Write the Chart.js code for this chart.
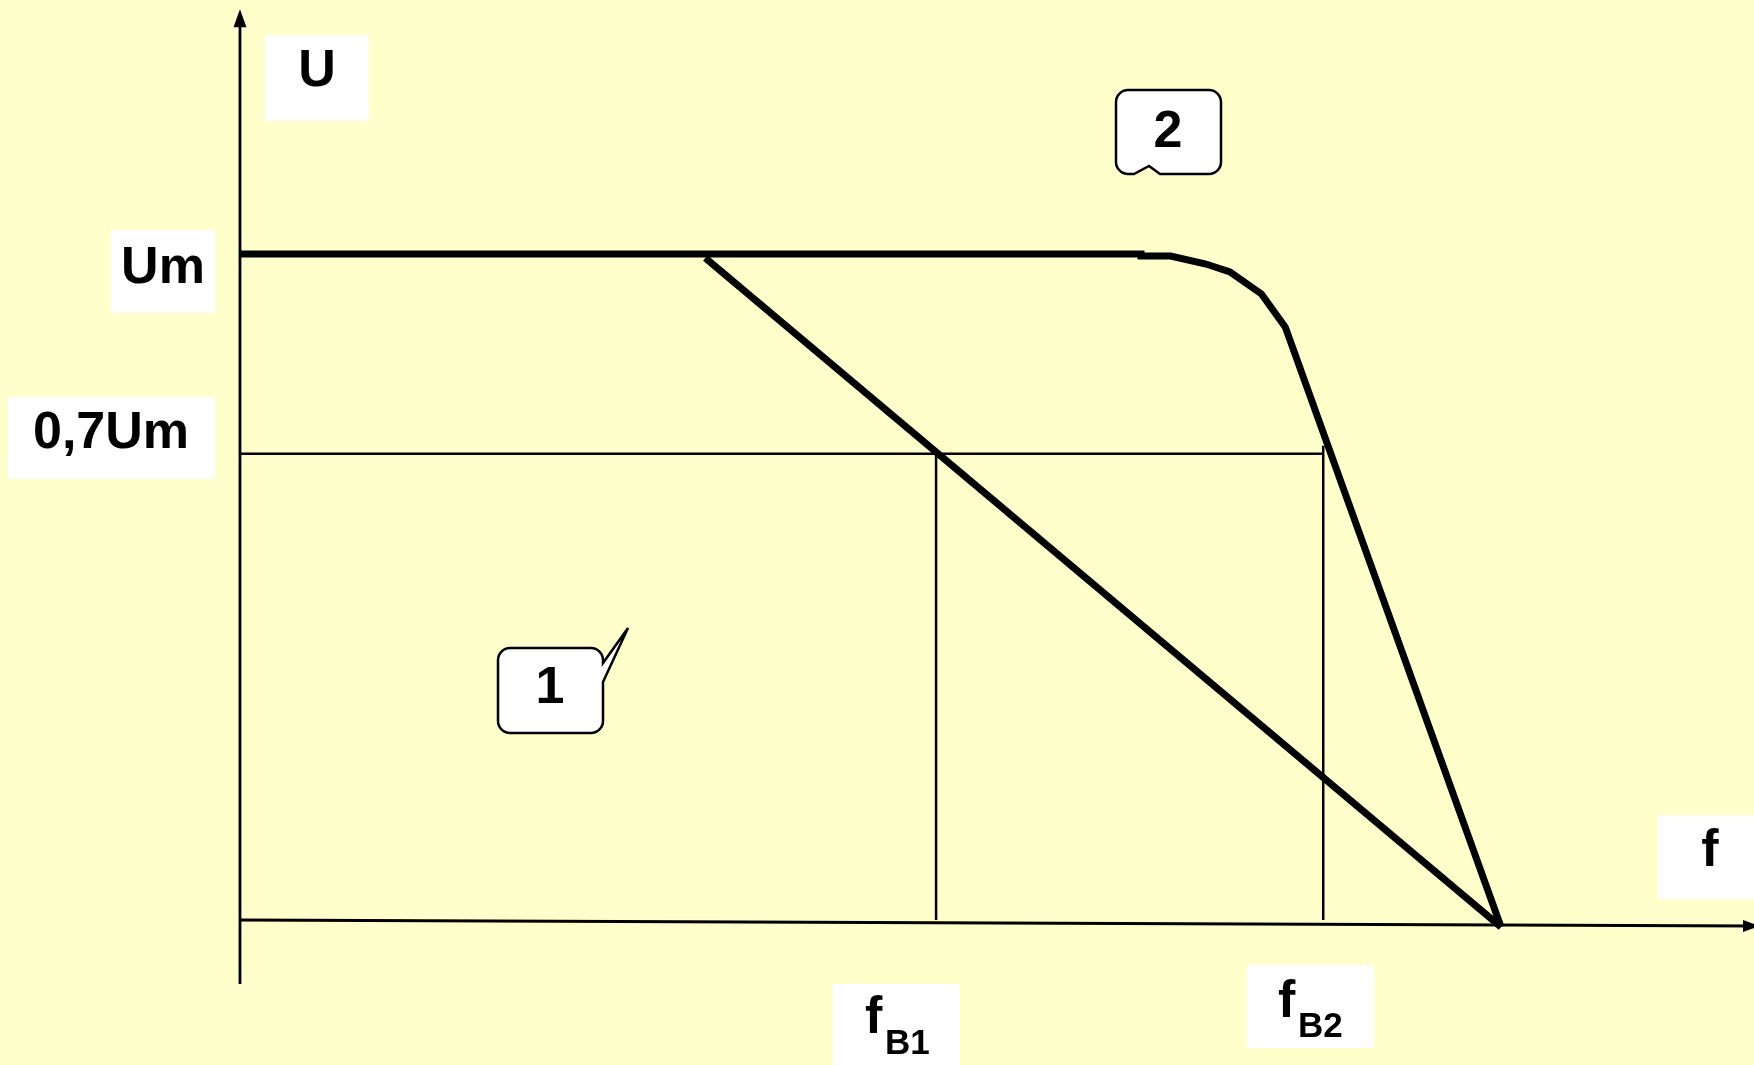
<!DOCTYPE html>
<html>
<head>
<meta charset="utf-8">
<script src="https://cdn.jsdelivr.net/npm/chart.js@4"></script>
<style>
  body { margin: 0; background: #ffffcc; }
  canvas { display: block; }
</style>
</head>
<body>
<canvas id="chartAfc" width="1754" height="1065"></canvas>
<script>
// frequency f in % of the point where both curves meet the axis, U in units of Um
const curve1F = [36.9, 100];
const curve1U = [0.994, -0.0105];

const curve2F = [0, 71.45, 71.45, 73.8, 76.6, 78.5, 81.0, 82.9, 100];
const curve2U = [1, 1, 0.997, 0.997, 0.985, 0.973, 0.940, 0.890, -0.0105];

const levelU = 0.7;          // 0,7Um level
const fB = [55.2, 85.9];     // fB1, fB2
const fBTop = [0.7, 0.712];  // upper ends of the vertical marks
const axisF = [0, 120.06];
const axisU = [0, -0.009];   // x axis is drawn slightly tilted
const yAxisU = [-0.096, 1.342];

const pts = (xs, ys) => xs.map((x, i) => ({ x: x, y: ys[i] }));
const thin = { borderColor: '#000', borderWidth: 2.5, pointRadius: 0, showLine: true };
const thick = { borderColor: '#000', borderWidth: 7, pointRadius: 0, showLine: true, borderJoinStyle: 'miter' };

function whiteBox(ctx, x1, y1, x2, y2) {
  ctx.fillStyle = '#fff';
  ctx.fillRect(x1, y1, x2 - x1, y2 - y1);
}

// labels, callouts and arrow heads
const drawExtras = {
  id: 'drawExtras',
  beforeDraw(chart) {
    const ctx = chart.ctx;
    ctx.save();
    ctx.fillStyle = '#ffffcc';
    ctx.fillRect(0, 0, chart.width, chart.height);
    ctx.restore();
  },
  afterDatasetsDraw(chart) {
    const ctx = chart.ctx;
    const sx = chart.scales.x, sy = chart.scales.y;
    ctx.save();

    // arrow heads
    ctx.fillStyle = '#000';
    const ax = sx.getPixelForValue(0), ay = sy.getPixelForValue(yAxisU[1]);
    ctx.beginPath();
    ctx.moveTo(ax, ay - 17);
    ctx.lineTo(ax - 6.5, ay + 1);
    ctx.lineTo(ax + 6.5, ay + 1);
    ctx.closePath();
    ctx.fill();
    const bx = sx.getPixelForValue(axisF[1]), by = sy.getPixelForValue(axisU[1]);
    ctx.beginPath();
    ctx.moveTo(bx + 6, by);
    ctx.lineTo(bx - 11, by - 6);
    ctx.lineTo(bx - 11, by + 6);
    ctx.closePath();
    ctx.fill();

    // white label boxes
    whiteBox(ctx, 265, 35, 369, 121);
    whiteBox(ctx, 111, 230, 215, 313);
    whiteBox(ctx, 8, 397, 215, 479);
    whiteBox(ctx, 1658, 815, 1754, 899);
    whiteBox(ctx, 833, 984, 960, 1065);
    whiteBox(ctx, 1247, 965, 1374, 1048);

    ctx.fillStyle = '#000';
    ctx.font = 'bold 52px "Liberation Sans", Arial, sans-serif';
    ctx.textAlign = 'center';
    ctx.textBaseline = 'alphabetic';
    ctx.fillText('U', 317, 86);
    ctx.fillText('Um', 163, 283);
    ctx.fillText('0,7Um', 111, 448);
    ctx.fillText('f', 1710, 866);

    ctx.textAlign = 'left';
    ctx.fillText('f', 865, 1033);
    ctx.fillText('f', 1278, 1017);
    ctx.font = 'bold 35px "Liberation Sans", Arial, sans-serif';
    ctx.fillText('B1', 885, 1054);
    ctx.fillText('B2', 1298, 1037);

    // callout 1
    const r = 12;
    ctx.lineWidth = 2.5;
    ctx.strokeStyle = '#000';
    ctx.beginPath();
    ctx.moveTo(498 + r, 648);
    ctx.lineTo(603 - r, 648);
    ctx.arcTo(603, 648, 603, 648 + r, r);
    ctx.lineTo(603, 663);
    ctx.lineTo(628, 628);
    ctx.lineTo(603, 682);
    ctx.lineTo(603, 733 - r);
    ctx.arcTo(603, 733, 603 - r, 733, r);
    ctx.lineTo(498 + r, 733);
    ctx.arcTo(498, 733, 498, 733 - r, r);
    ctx.lineTo(498, 648 + r);
    ctx.arcTo(498, 648, 498 + r, 648, r);
    ctx.closePath();
    ctx.fillStyle = '#fff';
    ctx.fill();
    ctx.stroke();

    // callout 2
    ctx.beginPath();
    ctx.moveTo(1116 + r, 90);
    ctx.lineTo(1221 - r, 90);
    ctx.arcTo(1221, 90, 1221, 90 + r, r);
    ctx.lineTo(1221, 174 - r);
    ctx.arcTo(1221, 174, 1221 - r, 174, r);
    ctx.lineTo(1160, 174);
    ctx.lineTo(1149, 166);
    ctx.lineTo(1134, 174);
    ctx.lineTo(1116 + r, 174);
    ctx.arcTo(1116, 174, 1116, 174 - r, r);
    ctx.lineTo(1116, 90 + r);
    ctx.arcTo(1116, 90, 1116 + r, 90, r);
    ctx.closePath();
    ctx.fill();
    ctx.stroke();

    ctx.fillStyle = '#000';
    ctx.font = 'bold 52px "Liberation Sans", Arial, sans-serif';
    ctx.textAlign = 'center';
    ctx.fillText('1', 550, 703);
    ctx.fillText('2', 1168, 147);

    ctx.restore();
  }
};

new Chart(document.getElementById('chartAfc'), {
  type: 'scatter',
  data: {
    datasets: [
      { ...thin, borderWidth: 2.8, data: pts([0, 0], yAxisU) },
      { ...thin, borderWidth: 2.8, data: pts(axisF, axisU) },
      { ...thin, data: pts([0, fB[1]], [levelU, levelU]) },
      { ...thin, data: pts([fB[0], fB[0]], [fBTop[0], 0]) },
      { ...thin, data: pts([fB[1], fB[1]], [fBTop[1], 0]) },
      { ...thick, data: pts(curve1F, curve1U) },
      { ...thick, data: pts(curve2F, curve2U) }
    ]
  },
  options: {
    responsive: false,
    animation: false,
    events: [],
    layout: { padding: 0 },
    plugins: { legend: { display: false }, tooltip: { enabled: false } },
    scales: {
      x: { type: 'linear', display: false, min: -19.03, max: 120.06 },
      y: { type: 'linear', display: false, min: -0.2177, max: 1.3814 }
    }
  },
  plugins: [drawExtras]
});
</script>
</body>
</html>
